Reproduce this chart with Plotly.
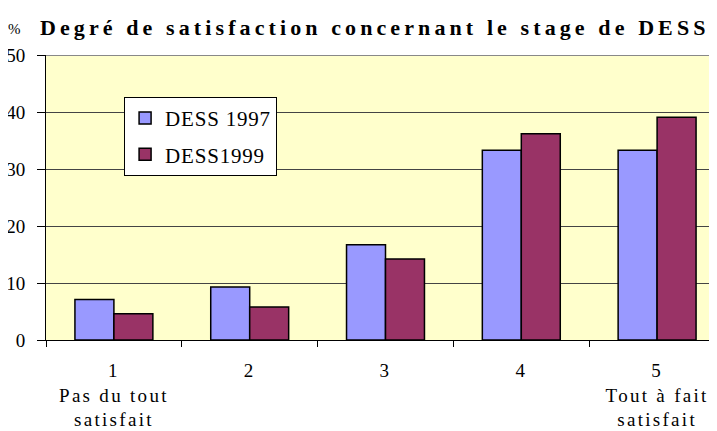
import plotly.graph_objects as go

categories = ["1", "2", "3", "4", "5"]
tick_labels = ["1<br>Pas du tout<br>satisfait", "2", "3", "4", "5<br>Tout à fait<br>satisfait"]
dess_1997 = [7.1, 9.3, 16.7, 33.3, 33.3]
dess_1999 = [4.6, 5.8, 14.2, 36.2, 39.1]
y_ticks = [0, 10, 20, 30, 40, 50]
title_text = "Degré de satisfaction concernant le stage de DESS"

serif = "Liberation Serif"


def spaced(text, px):
    return f'<span style="letter-spacing:{px}px">{text}</span>'


fig = go.Figure()
fig.add_trace(go.Bar(x=categories, y=dess_1997, name=spaced("DESS 1997", 0.8), legendgroup="a",
                     marker=dict(color="#9999FF", line=dict(color="black", width=1.5))))
fig.add_trace(go.Bar(x=categories, y=dess_1999, name=spaced("DESS1999", 0.8), legendgroup="b",
                     marker=dict(color="#993366", line=dict(color="black", width=1.5))))

annotations = [
    dict(text=spaced(title_text, 4.1), xref="paper", yref="paper", x=-0.0118, y=1.0, yshift=28,
         xanchor="left", yanchor="middle", showarrow=False,
         font=dict(family=serif, size=22, color="black", weight="bold")),
    dict(text="%", xref="paper", yref="paper", x=-0.0470, y=1.0, yshift=26,
         xanchor="center", yanchor="middle", showarrow=False,
         font=dict(family=serif, size=15, color="black")),
]

fig.update_layout(
    width=717, height=431,
    margin=dict(l=38, r=0, t=47, b=99, autoexpand=False),
    paper_bgcolor="white",
    plot_bgcolor="#FFFFCC",
    barmode="group", bargap=0.426, bargroupgap=0,
    font=dict(family=serif, size=19, color="black"),
    showlegend=True,
    legend=dict(x=0.115, y=0.853, xanchor="left", yanchor="top",
                bgcolor="white", bordercolor="black", borderwidth=1,
                font=dict(family=serif, size=21, color="black"),
                traceorder="grouped", tracegroupgap=6),
    annotations=annotations,
    xaxis=dict(type="category", range=[-0.5, 4.5], tickmode="array", tickvals=categories,
               ticktext=[spaced(t, 2.3) for t in tick_labels],
               showgrid=False, showline=True, linecolor="black", automargin=False,
               linewidth=1, ticks="outside", tickson="boundaries", ticklen=6,
               tickcolor="black", tickfont=dict(family=serif, size=19), ticklabelstandoff=13),
    yaxis=dict(range=[0, 50], tickvals=y_ticks, showgrid=True, gridcolor="#444444",
               gridwidth=1, showline=True, linecolor="black", linewidth=1, automargin=False,
               ticks="outside", ticklen=8, tickcolor="black", ticklabelstandoff=8,
               tickfont=dict(family=serif, size=19), zeroline=False),
    shapes=[dict(type="line", xref="paper", yref="y", x0=0, x1=1, y0=50, y1=50,
                 line=dict(color="#888888", width=2))],
)

fig.write_html("out.html")
